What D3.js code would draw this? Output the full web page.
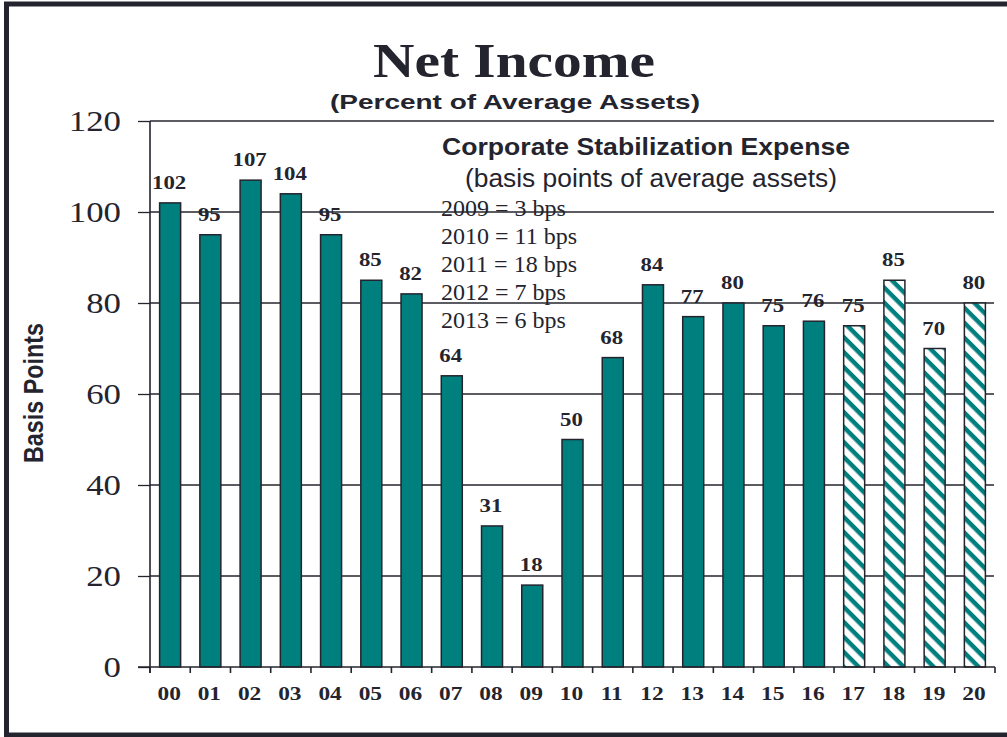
<!DOCTYPE html>
<html>
<head>
<meta charset="utf-8">
<script src="https://cdn.jsdelivr.net/npm/d3@7"></script>
<style>
  body { margin: 0; background: #fff; }
  svg { display: block; }
</style>
</head>
<body>
<script>
let years = ['00', '01', '02', '03', '04', '05', '06', '07', '08', '09', '10',
             '11', '12', '13', '14', '15', '16', '17', '18', '19', '20']
let netIncome = [102, 95, 107, 104, 95, 85, 82, 64, 31, 18, 50,
                 68, 84, 77, 80, 75, 76, 75, 85, 70, 80]
let projected = ['17', '18', '19', '20']
let yTicks = [0, 20, 40, 60, 80, 100, 120]
let expenseLines = ['2009 = 3 bps', '2010 = 11 bps', '2011 = 18 bps', '2012 = 7 bps', '2013 = 6 bps']

let svgWidth = 1007
let svgHeight = 737
let teal = '#007f7f'
let ink = '#24242e'
let plotLeft = 150, plotRight = 995, plotTop = 121, plotBottom = 667

// text in the reference is a bit wider than the fonts draw it
function stretch(sel, factor) {
    sel.each(function() {
        let w = this.getComputedTextLength()
        d3.select(this).attr('textLength', w * factor).attr('lengthAdjust', 'spacingAndGlyphs')
    })
}

let svg = d3.select('body').append('svg')
    .attr('width', svgWidth)
    .attr('height', svgHeight)

let defs = svg.append('defs')
let hatch = defs.append('pattern')
    .attr('id', 'hatch')
    .attr('patternUnits', 'userSpaceOnUse')
    .attr('width', 10.6)
    .attr('height', 10.6)
    .attr('patternTransform', 'rotate(45)')
hatch.append('rect').attr('width', 10.6).attr('height', 10.6).attr('fill', '#fff')
hatch.append('rect').attr('width', 10.6).attr('height', 4.4).attr('fill', teal)

let x = d3.scaleBand()
    .domain(years)
    .range([plotLeft, plotRight])
    .paddingInner(0.478)
    .paddingOuter(0.239)

let y = d3.scaleLinear()
    .domain([0, 120])
    .range([plotBottom, plotTop])

// gridlines
svg.append('g')
    .selectAll('line')
    .data(yTicks.filter(d => d > 0))
    .join('line')
    .attr('x1', plotLeft)
    .attr('x2', plotRight - 1)
    .attr('y1', d => y(d))
    .attr('y2', d => y(d))
    .attr('stroke', ink)
    .attr('stroke-width', 1.3)

// y axis
let yAxis = svg.append('g')
    .attr('transform', `translate(${plotLeft},0)`)
    .call(d3.axisLeft(y).tickValues(yTicks).tickSize(12).tickPadding(17))
yAxis.select('.domain').remove()
yAxis.selectAll('line').attr('stroke', ink).attr('stroke-width', 1.3)
yAxis.selectAll('text')
    .attr('fill', ink)
    .style('font-family', '"Liberation Serif", "Times New Roman", serif')
    .style('font-size', '29px')
    .attr('dy', '0.31em')
    .call(stretch, 1.2)
svg.append('line')
    .attr('x1', plotLeft).attr('x2', plotLeft)
    .attr('y1', plotTop).attr('y2', plotBottom + 6)
    .attr('stroke', ink).attr('stroke-width', 1.6)

// bars
svg.append('g')
    .selectAll('rect')
    .data(years)
    .join('rect')
    .attr('x', d => x(d))
    .attr('width', x.bandwidth())
    .attr('y', (d, i) => y(netIncome[i]))
    .attr('height', (d, i) => y(0) - y(netIncome[i]))
    .attr('fill', d => projected.includes(d) ? 'url(#hatch)' : teal)
    .attr('stroke', ink)
    .attr('stroke-width', 1.5)

// value labels
svg.append('g')
    .selectAll('text')
    .data(years)
    .join('text')
    .attr('x', d => x(d) + x.bandwidth() / 2 - 1)
    .attr('y', (d, i) => y(netIncome[i]) - 14)
    .attr('text-anchor', 'middle')
    .attr('fill', ink)
    .style('font-family', '"Liberation Serif", "Times New Roman", serif')
    .style('font-weight', 'bold')
    .style('font-size', '19px')
    .text((d, i) => netIncome[i])
    .call(stretch, 1.2)

// x axis
svg.append('line')
    .attr('x1', plotLeft - 12).attr('x2', plotRight)
    .attr('y1', plotBottom).attr('y2', plotBottom)
    .attr('stroke', ink).attr('stroke-width', 1.6)
let bounds = years.map(d => x(d) - x.step() * x.paddingInner() / 2).concat([plotRight])
svg.append('g')
    .selectAll('line')
    .data(bounds)
    .join('line')
    .attr('x1', d => d).attr('x2', d => d)
    .attr('y1', plotBottom).attr('y2', plotBottom + 6)
    .attr('stroke', ink).attr('stroke-width', 1.6)
let xAxis = svg.append('g')
    .attr('transform', `translate(0,${plotBottom})`)
    .call(d3.axisBottom(x).tickSize(0).tickPadding(0))
xAxis.select('.domain').remove()
xAxis.selectAll('text')
    .attr('x', -1)
    .attr('y', 33)
    .attr('dy', 0)
    .attr('fill', ink)
    .style('font-family', '"Liberation Serif", "Times New Roman", serif')
    .style('font-weight', 'bold')
    .style('font-size', '18px')
    .call(stretch, 1.3)

// titles
svg.append('text')
    .attr('x', 514).attr('y', 77)
    .attr('text-anchor', 'middle')
    .attr('fill', ink)
    .style('font-family', '"Liberation Serif", "Times New Roman", serif')
    .style('font-weight', 'bold')
    .style('font-size', '48px')
    .attr('textLength', 282).attr('lengthAdjust', 'spacingAndGlyphs')
    .text('Net Income')
svg.append('text')
    .attr('x', 515).attr('y', 109)
    .attr('text-anchor', 'middle')
    .attr('fill', ink)
    .style('font-family', '"Liberation Sans", Arial, sans-serif')
    .style('font-weight', 'bold')
    .style('font-size', '21px')
    .attr('textLength', 370).attr('lengthAdjust', 'spacingAndGlyphs')
    .text('(Percent of Average Assets)')

svg.append('text')
    .attr('transform', 'translate(43,393) rotate(-90)')
    .attr('text-anchor', 'middle')
    .attr('fill', ink)
    .style('font-family', '"Liberation Sans", Arial, sans-serif')
    .style('font-weight', 'bold')
    .style('font-size', '28px')
    .attr('textLength', 140).attr('lengthAdjust', 'spacingAndGlyphs')
    .text('Basis Points')

// annotation
svg.append('text')
    .attr('x', 646).attr('y', 155)
    .attr('text-anchor', 'middle')
    .attr('fill', ink)
    .style('font-family', '"Liberation Sans", Arial, sans-serif')
    .style('font-weight', 'bold')
    .style('font-size', '23px')
    .attr('textLength', 408).attr('lengthAdjust', 'spacingAndGlyphs')
    .text('Corporate Stabilization Expense')
svg.append('text')
    .attr('x', 651).attr('y', 187)
    .attr('text-anchor', 'middle')
    .attr('fill', ink)
    .style('font-family', '"Liberation Sans", Arial, sans-serif')
    .style('font-size', '25px')
    .attr('textLength', 372).attr('lengthAdjust', 'spacingAndGlyphs')
    .text('(basis points of average assets)')
svg.append('g')
    .selectAll('text')
    .data(expenseLines)
    .join('text')
    .attr('x', 441)
    .attr('y', (d, i) => 216 + i * 28)
    .attr('fill', ink)
    .style('font-family', '"Liberation Serif", "Times New Roman", serif')
    .style('font-size', '24px')
    .text(d => d)

// frame
svg.append('rect')
    .attr('x', 6.5).attr('y', 4)
    .attr('width', 1010).attr('height', 731)
    .attr('fill', 'none')
    .attr('stroke', ink)
    .attr('stroke-width', 5)
</script>
</body>
</html>
